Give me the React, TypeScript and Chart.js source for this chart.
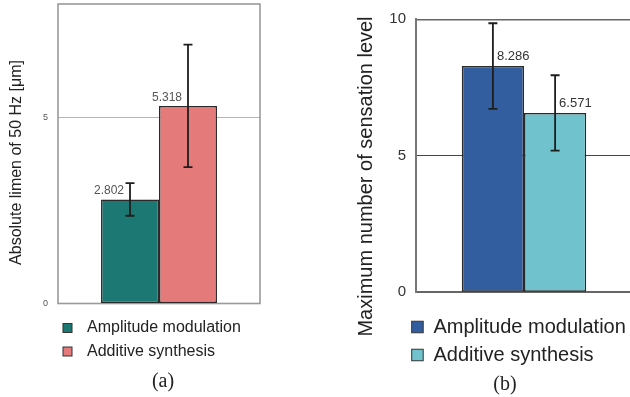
import React, { useEffect, useRef } from "react";
import { Chart, registerables } from "chart.js";

Chart.register(...registerables);

// ---------- data ----------
const SERIES_NAMES = ["Amplitude modulation", "Additive synthesis"];

const A_VALUES = [2.802, 5.318];
const A_ERRORS = [0.44, 1.65];
const A_VALUE_LABELS = ["2.802", "5.318"];
const A_COLORS = ["#1b7873", "#e47a7a"];
const A_TICKS = [0, 5];
const A_MAX = 8.06;
const A_TITLE = "Absolute limen of 50 Hz [μm]";
const A_CAPTION = "(a)";

const B_VALUES = [8.286, 6.571];
const B_ERRORS = [1.57, 1.38];
const B_VALUE_LABELS = ["8.286", "6.571"];
const B_COLORS = ["#325ea0", "#70c2cc"];
const B_TICKS = [0, 5, 10];
const B_MAX = 10;
const B_TITLE = "Maximum number of sensation level";
const B_CAPTION = "(b)";

const SANS = "'Liberation Sans', Arial, sans-serif";
const SERIF = "'Liberation Serif', 'Times New Roman', serif";

type PanelCfg = {
  values: number[];
  errors: number[];
  valueLabels: string[];
  colors: string[];
  ticks: number[];
  max: number;
  title: string;
  caption: string;
  width: number;
  padding: { left: number; top: number; right: number; bottom: number };
  yWidth: number;
  tickFont: number;
  tickColor: string;
  titleFont: number;
  titleX: number;
  titleY: number;
  gridColor: (v: number) => string;
  gridWidth: (v: number) => number;
  axisBorder: boolean;
  frame: boolean;
  labelSide: "left" | "right";
  labelFont: number;
  labelColor: string;
  legendBoxX: number;
  legendBox: number;
  legendTextX: number;
  legendY: number[];
  legendFont: number;
  captionX: number;
  captionY: number;
  captionFont: number;
  catPct: number;
};

const PANEL_A: PanelCfg = {
  values: A_VALUES,
  errors: A_ERRORS,
  valueLabels: A_VALUE_LABELS,
  colors: A_COLORS,
  ticks: A_TICKS,
  max: A_MAX,
  title: A_TITLE,
  caption: A_CAPTION,
  width: 320,
  padding: { left: 0, top: 4, right: 60, bottom: 93.5 },
  yWidth: 58,
  tickFont: 9,
  tickColor: "#555",
  titleFont: 16,
  titleX: 17,
  titleY: 162.5,
  gridColor: (v) => (v === 5 ? "#b4b4b4" : "rgba(0,0,0,0)"),
  gridWidth: () => 1,
  axisBorder: false,
  frame: true,
  labelSide: "left",
  labelFont: 12,
  labelColor: "#555",
  legendBoxX: 63,
  legendBox: 9,
  legendTextX: 87,
  legendY: [328, 351.5],
  legendFont: 16,
  captionX: 163,
  captionY: 382,
  captionFont: 20,
  catPct: 0.574,
};

const PANEL_B: PanelCfg = {
  values: B_VALUES,
  errors: B_ERRORS,
  valueLabels: B_VALUE_LABELS,
  colors: B_COLORS,
  ticks: B_TICKS,
  max: B_MAX,
  title: B_TITLE,
  caption: B_CAPTION,
  width: 330,
  padding: { left: 0, top: 19.3, right: 18, bottom: 104.7 },
  yWidth: 96,
  tickFont: 15,
  tickColor: "#333",
  titleFont: 20,
  titleX: 46.5,
  titleY: 176.5,
  gridColor: (v) => (v === 0 ? "rgba(0,0,0,0)" : v === 10 ? "#666" : "#444"),
  gridWidth: (v) => (v === 10 ? 1.5 : 1),
  axisBorder: true,
  frame: false,
  labelSide: "right",
  labelFont: 13,
  labelColor: "#333",
  legendBoxX: 91.7,
  legendBox: 11.5,
  legendTextX: 113.5,
  legendY: [327, 355],
  legendFont: 20,
  captionX: 185,
  captionY: 385,
  captionFont: 20,
  catPct: 0.576,
};

function makePlugin(p: PanelCfg) {
  return {
    id: "panelDeco",
    beforeDatasetsDraw(chart: any) {
      if (!p.frame) return;
      const { left, top, right, bottom } = chart.chartArea;
      const ctx = chart.ctx;
      ctx.save();
      ctx.strokeStyle = "#9a9a9a";
      ctx.lineWidth = 1.6;
      ctx.strokeRect(left, top, right - left, bottom - top);
      ctx.restore();
    },
    afterDatasetsDraw(chart: any) {
      const ctx = chart.ctx;
      const y = chart.scales.y;
      ctx.save();
      chart.data.datasets.forEach((ds: any, i: number) => {
        const bar = chart.getDatasetMeta(i).data[0];
        const v = ds.data[0] as number;
        const e = p.errors[i];
        const x = bar.x;
        const yt = y.getPixelForValue(v + e);
        const yb = y.getPixelForValue(v - e);
        ctx.strokeStyle = "#1e1e1e";
        ctx.lineWidth = 1.8;
        ctx.beginPath();
        ctx.moveTo(x, yt);
        ctx.lineTo(x, yb);
        ctx.moveTo(x - 4.5, yt);
        ctx.lineTo(x + 4.5, yt);
        ctx.moveTo(x - 4.5, yb);
        ctx.lineTo(x + 4.5, yb);
        ctx.stroke();

        const barTop = y.getPixelForValue(v);
        ctx.font = `${p.labelFont}px ${SANS}`;
        ctx.fillStyle = p.labelColor;
        ctx.textBaseline = "alphabetic";
        if (p.labelSide === "left") {
          ctx.textAlign = "right";
          ctx.fillText(p.valueLabels[i], x - 6, barTop - 5);
        } else {
          ctx.textAlign = "left";
          ctx.fillText(p.valueLabels[i], x + 4, barTop - 6);
        }

        // legend entry
        const ly = p.legendY[i];
        ctx.fillStyle = ds.backgroundColor;
        ctx.fillRect(p.legendBoxX, ly - p.legendBox / 2, p.legendBox, p.legendBox);
        ctx.strokeStyle = "#333";
        ctx.lineWidth = 1;
        ctx.strokeRect(p.legendBoxX, ly - p.legendBox / 2, p.legendBox, p.legendBox);
        ctx.fillStyle = "#222";
        ctx.font = `${p.legendFont}px ${SANS}`;
        ctx.textAlign = "left";
        ctx.textBaseline = "middle";
        ctx.fillText(ds.label, p.legendTextX, ly);
      });

      // y-axis title
      ctx.save();
      ctx.translate(p.titleX, p.titleY);
      ctx.rotate(-Math.PI / 2);
      ctx.font = `${p.titleFont}px ${SANS}`;
      ctx.fillStyle = "#222";
      ctx.textAlign = "center";
      ctx.textBaseline = "middle";
      ctx.fillText(p.title, 0, 0);
      ctx.restore();

      // caption
      ctx.font = `${p.captionFont}px ${SERIF}`;
      ctx.fillStyle = "#222";
      ctx.textAlign = "center";
      ctx.textBaseline = "middle";
      ctx.fillText(p.caption, p.captionX, p.captionY);
      ctx.restore();
    },
  };
}

function Panel({ p, left }: { p: PanelCfg; left: number }) {
  const ref = useRef<HTMLCanvasElement | null>(null);
  useEffect(() => {
    if (!ref.current) return;
    const chart = new Chart(ref.current, {
      type: "bar",
      data: {
        labels: [""],
        datasets: SERIES_NAMES.map((name, i) => ({
          label: name,
          data: [p.values[i]],
          backgroundColor: p.colors[i],
          borderColor: "#2a2a2a",
          borderWidth: 1.5,
          borderSkipped: false,
          barPercentage: 1,
          categoryPercentage: p.catPct,
        })),
      },
      options: {
        responsive: false,
        animation: false,
        events: [],
        layout: { padding: p.padding },
        plugins: {
          legend: { display: false },
          tooltip: { enabled: false },
          title: { display: false },
        },
        scales: {
          x: {
            grid: { display: false, drawTicks: false },
            ticks: { display: false },
            border: { display: p.axisBorder, color: "#666", width: 2 },
            afterFit: (s: any) => {
              s.height = 0;
              s.paddingLeft = 0;
              s.paddingRight = 0;
            },
          },
          y: {
            min: 0,
            max: p.max,
            afterBuildTicks: (s: any) => {
              s.ticks = p.ticks.map((v) => ({ value: v }));
            },
            afterFit: (s: any) => {
              s.width = p.yWidth;
              s.paddingTop = 0;
              s.paddingBottom = 0;
            },
            grid: {
              drawTicks: false,
              color: (c: any) => p.gridColor(c.tick ? c.tick.value : -1),
              lineWidth: (c: any) => p.gridWidth(c.tick ? c.tick.value : -1),
            },
            border: { display: p.axisBorder, color: "#777", width: 2 },
            ticks: {
              padding: 10,
              color: p.tickColor,
              font: { size: p.tickFont, family: SANS },
            },
            title: { display: false },
          },
        },
      },
      plugins: [makePlugin(p)],
    } as any);
    return () => chart.destroy();
  }, [p]);
  return (
    <canvas
      ref={ref}
      width={p.width}
      height={397}
      style={{ position: "absolute", left, top: 0, width: p.width, height: 397 }}
    />
  );
}

export default function App() {
  return (
    <div
      style={{
        position: "fixed",
        left: 0,
        top: 0,
        width: 630,
        height: 397,
        overflow: "hidden",
        background: "#fff",
      }}
    >
      <Panel p={PANEL_A} left={0} />
      <Panel p={PANEL_B} left={320} />
    </div>
  );
}
